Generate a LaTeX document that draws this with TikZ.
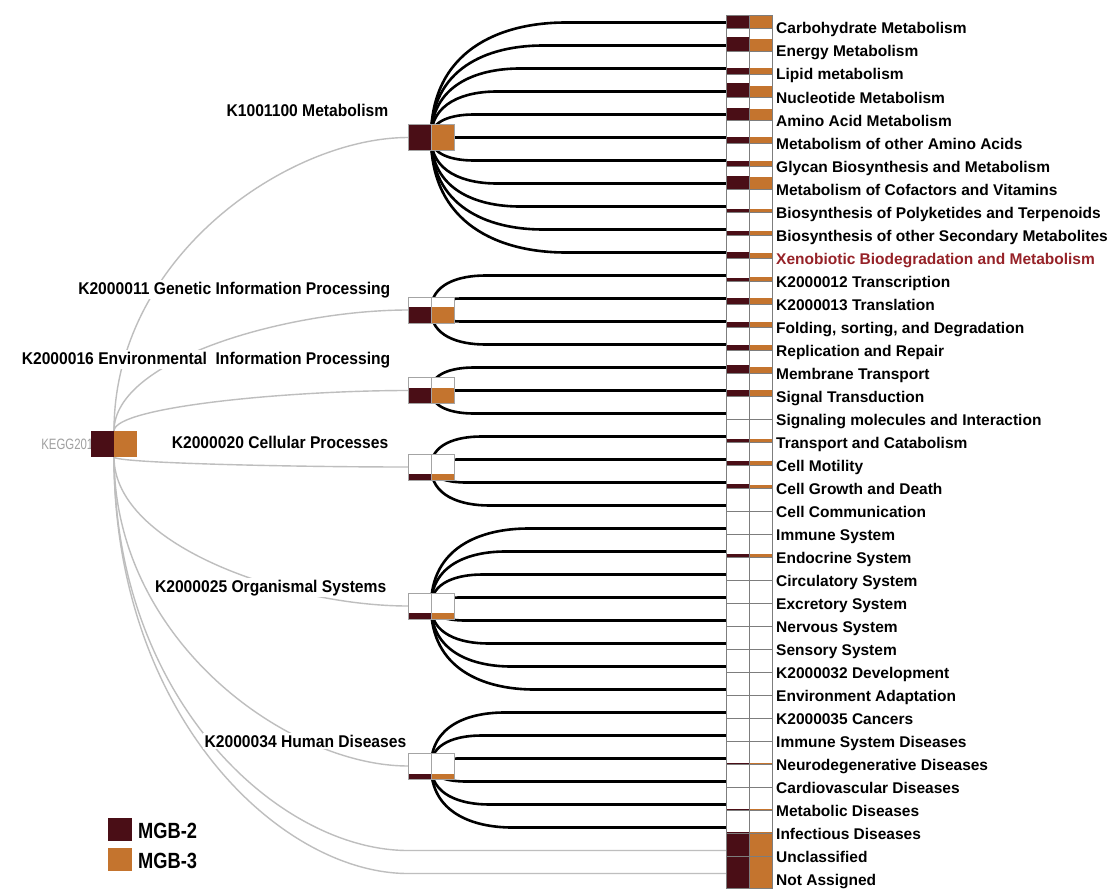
\documentclass[tikz,border=0pt]{standalone}
\usepackage{fontspec}
\usepackage{graphicx}
\setmainfont{Liberation Sans}
\definecolor{mgbtwo}{RGB}{74,14,22}
\definecolor{mgbthree}{RGB}{196,116,46}
\definecolor{xenored}{RGB}{150,34,40}
\definecolor{edgegrey}{RGB}{190,190,190}
\definecolor{gridgrey}{RGB}{125,125,125}
\definecolor{rootgrey}{RGB}{160,160,160}
\newcommand\midtext[1]{\scalebox{0.92}[1]{#1}}
\begin{document}
\begin{tikzpicture}[x=1pt,y=-1pt,
  fanedge/.style={line width=2.6pt,black},
  rootedge/.style={line width=1.4pt,edgegrey},
  midlabel/.style={anchor=base east,fill=white,inner sep=1.5pt,font=\bfseries\fontsize{17}{19}\selectfont},
  leaflabel/.style={anchor=base west,inner sep=0pt,font=\bfseries\fontsize{15.5}{18}\selectfont},
  boxnode/.style={minimum width=46pt,minimum height=26pt,inner sep=0pt,outer sep=0pt},
  cellframe/.style={draw=gridgrey,line width=0.9pt},
  legendbox/.style={minimum width=24pt,minimum height=23pt,inner sep=0pt,outer sep=0pt},
  legendtext/.style={anchor=base west,inner sep=0pt,font=\bfseries\fontsize{22}{24}\selectfont},
]
\useasboundingbox[fill=white] (0,0) rectangle (1115,888);
% node geometry
\node[boxnode] (R) at (114,444) {};
\foreach \m/\yc in {M1/137.5,M2/310,M3/390.5,M4/467,M5/606,M6/766}
  \node[boxnode] (\m) at (431,\yc) {};
\foreach \i in {1,...,38}{
  \pgfmathsetmacro{\yl}{22.5+23*(\i-1)}
  \coordinate (L\i) at (726,\yl);
}
% grey edges from root
\foreach \m/\yc in {M1/137.5,M2/310,M3/390.5}
  \draw[rootedge] (R.north) .. controls (114,{431+0.6*(\yc-431)}) and (290,\yc) .. (\m.west);
\foreach \m/\yc in {M4/467,M5/606,M6/766}
  \draw[rootedge] (R.south) .. controls (114,{457+0.6*(\yc-457)}) and (290,\yc) .. (\m.west);
\foreach \i/\yl in {37/850.5,38/873.5}
  \draw[rootedge] (R.south) .. controls (114,{457+0.62*(\yl-457)}) and (280,\yl) .. (408,\yl) -- (L\i);
% middle labels
\node[midlabel] (TM1) at (390,116.1) {\midtext{K1001100 Metabolism}};
\node[midlabel] (TM2) at (392,294.1) {\midtext{K2000011 Genetic Information Processing}};
\node[midlabel] (TM3) at (392,364.1) {\midtext{K2000016 Environmental\ \ Information Processing}};
\node[midlabel] (TM4) at (390,448.1) {\midtext{K2000020 Cellular Processes}};
\node[midlabel] (TM5) at (388,592.1) {\midtext{K2000025 Organismal Systems}};
\node[midlabel] (TM6) at (408,747.1) {\midtext{K2000034 Human Diseases}};
% fan edges
\foreach \m/\yc/\a/\b in {M1/137.5/1/11,M2/310/12/15,M3/390.5/16/18,M4/467/19/22,M5/606/23/30,M6/766/31/36}{
  \foreach \i in {\a,...,\b}{
    \pgfmathsetmacro{\yl}{22.5+23*(\i-1)}
    \pgfmathsetmacro{\dy}{\yl-\yc}
    \pgfmathsetmacro{\ad}{abs(\dy)}
    \draw[fanedge] (\m.center) .. controls (431,{\yc+0.75*\dy}) and ({441+0.5*\ad},\yl) .. ({451+\ad},\yl) -- (L\i);
  }
}
% leaf cells
\foreach \i/\fa/\fb in {1/1/1,2/.62/.55,3/.3/.3,4/.62/.5,5/.55/.5,6/.27/.3,7/.22/.25,8/.6/.55,
  9/.15/.15,10/.2/.18,11/.3/.25,12/.15/.2,13/.3/.3,14/.25/.25,15/.25/.25,16/.35/.3,17/.3/.3,
  18/0/0,19/.15/.15,20/.18/.18,21/.2/.15,22/0/0,23/0/0,24/.17/.15,25/0/0,26/0/0,27/0/0,28/0/0,
  29/0/0,30/0/0,31/0/0,32/0/0,33/.05/.08,34/0/0,35/.07/.05,36/.08/.08,37/1/1,38/1/1}{
  \pgfmathsetmacro{\yb}{\i==38 ? 888 : 28.5+23*(\i-1)}
  \pgfmathsetmacro{\yt}{\i==1 ? 15 : 5.5+23*(\i-1)}
  \pgfmathsetmacro{\ha}{\fa*(\yb-\yt)}
  \pgfmathsetmacro{\hb}{\fb*(\yb-\yt)}
  \fill[white] (726,\yt) rectangle (772,\yb);
  \fill[mgbtwo] (726,\yb-\ha) rectangle (749,\yb);
  \fill[mgbthree] (749,\yb-\hb) rectangle (772,\yb);
  \draw[cellframe] (726,\yt) rectangle (749,\yb) (749,\yt) rectangle (772,\yb);
}
% leaf labels
\foreach \i/\c/\t in {1/black/Carbohydrate Metabolism,2/black/Energy Metabolism,3/black/Lipid metabolism,
  4/black/Nucleotide Metabolism,5/black/Amino Acid Metabolism,6/black/Metabolism of other Amino Acids,
  7/black/Glycan Biosynthesis and Metabolism,8/black/Metabolism of Cofactors and Vitamins,
  9/black/Biosynthesis of Polyketides and Terpenoids,10/black/Biosynthesis of other Secondary Metabolites,
  11/xenored/Xenobiotic Biodegradation and Metabolism,12/black/K2000012 Transcription,
  13/black/K2000013 Translation,14/black/{Folding, sorting, and Degradation},15/black/Replication and Repair,
  16/black/Membrane Transport,17/black/Signal Transduction,18/black/Signaling molecules and Interaction,
  19/black/Transport and Catabolism,20/black/Cell Motility,21/black/Cell Growth and Death,
  22/black/Cell Communication,23/black/Immune System,24/black/Endocrine System,25/black/Circulatory System,
  26/black/Excretory System,27/black/Nervous System,28/black/Sensory System,29/black/K2000032 Development,
  30/black/Environment Adaptation,31/black/K2000035 Cancers,32/black/Immune System Diseases,
  33/black/Neurodegenerative Diseases,34/black/Cardiovascular Diseases,35/black/Metabolic Diseases,
  36/black/Infectious Diseases,37/black/Unclassified,38/black/Not Assigned}
  \node[leaflabel,text=\c] (T\i) at (776,{28.5+23*(\i-1)+5.5}) {\t};
% middle boxes
\foreach \m/\yc/\f in {M1/137.5/1,M2/310/0.6,M3/390.5/0.6,M4/467/0.25,M5/606/0.25,M6/766/0.2}{
  \fill[white] (408,\yc-13) rectangle (454,\yc+13);
  \fill[mgbtwo] (408,{\yc+13-26*\f}) rectangle (431,\yc+13);
  \fill[mgbthree] (431,{\yc+13-26*\f}) rectangle (454,\yc+13);
  \draw[gridgrey!70,line width=0.8pt] (408,\yc-13) rectangle (431,\yc+13) (431,\yc-13) rectangle (454,\yc+13);
}
% root
\node[anchor=base east,inner sep=0pt,text=rootgrey,font=\fontsize{15}{17}\selectfont] (KT) at (99,449.5) {\scalebox{0.76}[1]{KEGG2011}};
\fill[mgbtwo] (R.north west) rectangle (R.south);
\fill[mgbthree] (R.north) rectangle (R.south east);
% legend
\node[legendbox,fill=mgbtwo] (LG2) at (120,829.5) {};
\node[legendtext] (LG2T) at (138,838) {\scalebox{0.83}[1]{MGB-2}};
\node[legendbox,fill=mgbthree] (LG3) at (120,859.5) {};
\node[legendtext] (LG3T) at (138,868) {\scalebox{0.83}[1]{MGB-3}};
\end{tikzpicture}
\end{document}
